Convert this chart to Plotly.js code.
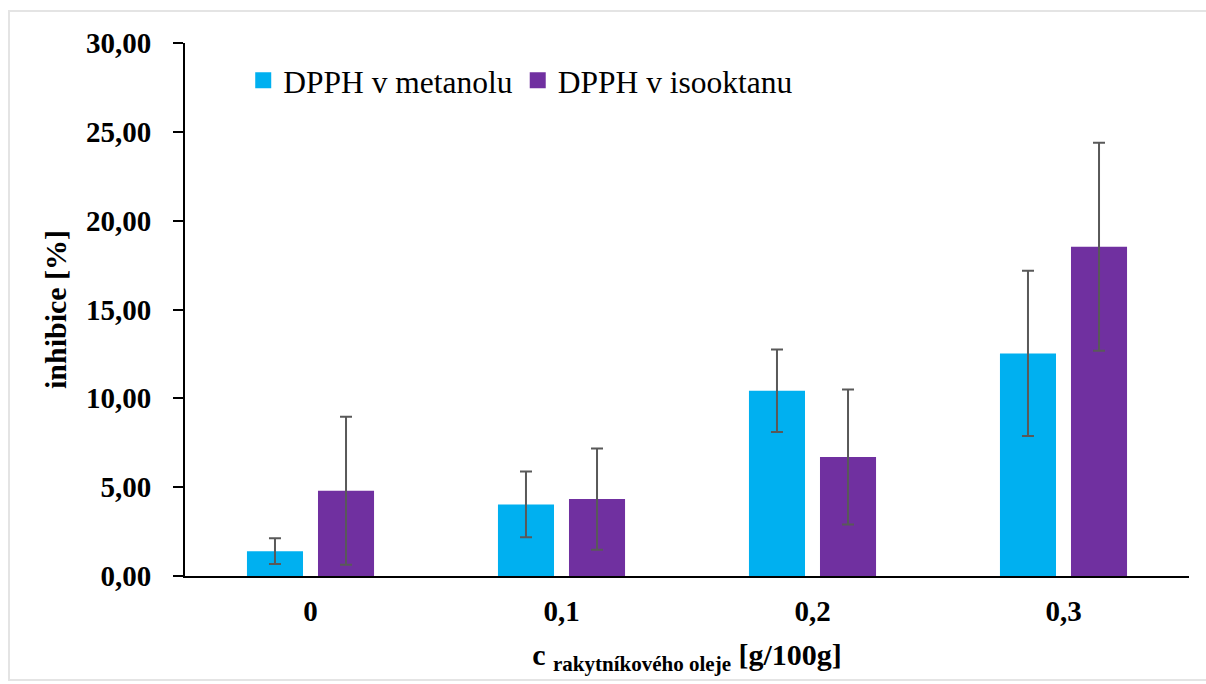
<!DOCTYPE html>
<html>
<head>
<meta charset="utf-8">
<script src="https://cdn.plot.ly/plotly-3.0.1.min.js"></script>
<style>
  html, body { margin: 0; padding: 0; background: #ffffff; overflow: hidden; }
  #wrap { position: relative; width: 1206px; height: 684px; overflow: hidden; }
  #chart { width: 1206px; height: 684px; }
  #frame { position: absolute; left: 8px; top: 10px; width: 1198px; height: 671px;
           border: 2px solid #e4e4e4; border-right: none; box-sizing: border-box; pointer-events: none; }
</style>
</head>
<body>
<div id="wrap">
  <div id="chart"></div>
  <div id="frame"></div>
</div>
<script>
const categories = ["0", "0,1", "0,2", "0,3"];
const seriesNames = ["DPPH v metanolu", "DPPH v isooktanu"];
const seriesColors = ["#00B0F0", "#7030A0"];
const metanolValues = [1.40, 4.03, 10.43, 12.53];
const metanolErrors = [0.72, 1.85, 2.32, 4.65];
const isooktanValues = [4.80, 4.33, 6.70, 18.53];
const isooktanErrors = [4.17, 2.85, 3.80, 5.85];
const yTitle = "inhibice [%]";
const xTitle = "c <sub>rakytníkového oleje</sub> [g/100g]";

const serif = "Liberation Serif";
const errStyle = { type: 'data', visible: true, color: '#595959', thickness: 2, width: 6 };

const traces = [
  {
    type: 'bar', name: seriesNames[0], x: categories, y: metanolValues,
    marker: { color: seriesColors[0] }, showlegend: false, legendgroup: 'a',
    error_y: Object.assign({ array: metanolErrors }, errStyle)
  },
  {
    type: 'bar', name: seriesNames[1], x: categories, y: isooktanValues,
    marker: { color: seriesColors[1] }, showlegend: false, legendgroup: 'b',
    error_y: Object.assign({ array: isooktanErrors }, errStyle)
  },
  // legend entries (square swatches)
  {
    type: 'scatter', mode: 'markers', name: seriesNames[0], x: [null], y: [null],
    marker: { symbol: 'square', size: 16, color: seriesColors[0] }, legendgroup: 'a', hoverinfo: 'skip'
  },
  {
    type: 'scatter', mode: 'markers', name: seriesNames[1], x: [null], y: [null],
    marker: { symbol: 'square', size: 16, color: seriesColors[1] }, legendgroup: 'b', hoverinfo: 'skip'
  }
];

const layout = {
  width: 1206, height: 684,
  margin: { l: 185, r: 17, t: 43, b: 108 },
  paper_bgcolor: '#ffffff', plot_bgcolor: '#ffffff',
  separators: ', ',
  barmode: 'group', bargap: 0.434, bargroupgap: 0.211,
  font: { family: serif, color: '#000000' },
  showlegend: true,
  legend: {
    orientation: 'h', x: 0.058, xanchor: 'left', y: 0.93, yanchor: 'middle',
    font: { family: serif, size: 31.5, color: '#000000' },
    bgcolor: 'rgba(0,0,0,0)', traceorder: 'normal', itemsizing: 'trace'
  },
  xaxis: {
    type: 'category', categoryorder: 'array', categoryarray: categories,
    showline: true, linecolor: '#000000', linewidth: 2,
    ticks: '', showgrid: false, zeroline: false,
    tickfont: { family: serif, size: 29, color: '#000000', weight: 'bold' },
    ticklabelstandoff: 8,
    title: { text: xTitle, font: { family: serif, size: 30, color: '#000000', weight: 'bold' }, standoff: 18 }
  },
  yaxis: {
    range: [0, 30], dtick: 5, tick0: 0, tickformat: '.2f',
    showline: true, linecolor: '#000000', linewidth: 2,
    ticks: 'outside', ticklen: 10, tickwidth: 2, tickcolor: '#000000',
    showgrid: false, zeroline: false,
    tickfont: { family: serif, size: 29, color: '#000000', weight: 'bold' },
    ticklabelstandoff: 16,
    title: { text: yTitle, font: { family: serif, size: 30, color: '#000000', weight: 'bold' }, standoff: 10 }
  }
};

Plotly.newPlot('chart', traces, layout, { displayModeBar: false, staticPlot: true });
</script>
</body>
</html>
